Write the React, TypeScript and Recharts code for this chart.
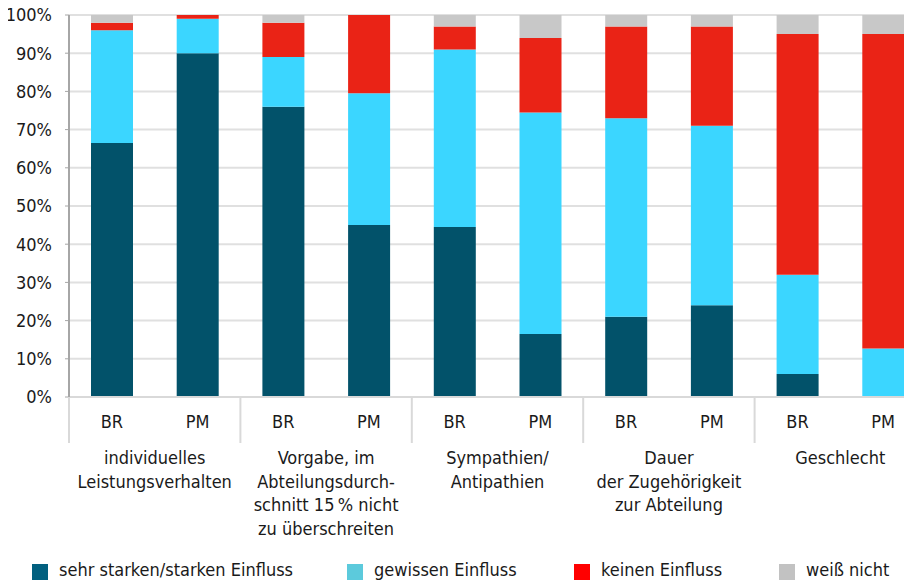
import React from 'react';
import { BarChart, Bar, XAxis, YAxis, CartesianGrid } from 'recharts';

const categories = ['BR', 'PM', 'BR', 'PM', 'BR', 'PM', 'BR', 'PM', 'BR', 'PM'];
const groupLabels: string[][] = [
  ['individuelles', 'Leistungsverhalten'],
  ['Vorgabe, im', 'Abteilungsdurch-', 'schnitt 15\u202F% nicht', 'zu überschreiten'],
  ['Sympathien/', 'Antipathien'],
  ['Dauer', 'der Zugehörigkeit', 'zur Abteilung'],
  ['Geschlecht'],
];
const strong = [66.5, 90, 76, 45, 44.5, 16.5, 21, 24, 6, 0];
const some = [29.5, 9, 13, 34.5, 46.5, 58, 52, 47, 26, 12.7];
const none = [2, 1, 9, 20.5, 6, 19.5, 24, 26, 63, 82.3];
const dunno = [2, 0, 2, 0, 3, 6, 3, 3, 5, 5];
const yTicks = [0, 10, 20, 30, 40, 50, 60, 70, 80, 90, 100];

const seriesNames = ['sehr starken/starken Einfluss', 'gewissen Einfluss', 'keinen Einfluss', 'weiß nicht'];
const seriesKeys = ['strong', 'some', 'none', 'dunno'];
const barColors = ['#02526A', '#3BD6FF', '#EA2316', '#C8C8C8'];
const legendColors = ['#02607F', '#5CCADC', '#FF0000', '#C2C2C2'];
const legendLeft = [32, 347, 574, 779];

const data = categories.map((c, i) => ({
  cat: c,
  strong: strong[i],
  some: some[i],
  none: none[i],
  dunno: dunno[i],
}));

const FONT = "'Liberation Sans Narrow', 'DejaVu Sans Condensed', 'Roboto', sans-serif";
const TEXT = '#1a1a1a';
const FS = 18;

const XTick = (props: any) => {
  const { x, y, payload, index } = props;
  const off = payload && payload.offset ? payload.offset : 42.8;
  const gi = Math.floor(index / 2);
  return (
    <g>
      <text x={x} y={y + 31} textAnchor="middle" fill={TEXT} fontSize={FS} fontFamily={FONT}>
        {payload.value}
      </text>
      {index % 2 === 0 && (
        <g>
          <line x1={x - off} x2={x - off} y1={y} y2={y + 46} stroke="#d9d9d9" strokeWidth={2} />
          {groupLabels[gi].map((t, k) => (
            <text
              key={k}
              x={x + off}
              y={y + 67 + k * 23.5}
              textAnchor="middle"
              fill={TEXT}
              fontSize={FS}
              fontFamily={FONT}
            >
              {t}
            </text>
          ))}
        </g>
      )}
    </g>
  );
};

export default function App() {
  return (
    <div
      style={{
        position: 'relative',
        width: 912,
        height: 580,
        overflow: 'hidden',
        marginLeft: -8,
        marginTop: -8,
        background: '#fff',
        fontFamily: FONT,
      }}
    >
      <BarChart
        width={930}
        height={580}
        data={data}
        margin={{ top: 15, right: 4, left: 0, bottom: 33 }}
        barCategoryGap={0}
      >
        <CartesianGrid vertical={false} stroke="#e0e0e0" strokeWidth={2} />
        <XAxis
          dataKey="cat"
          height={150}
          interval={0}
          tickLine={false}
          tickSize={0}
          tickMargin={0}
          axisLine={{ stroke: '#d9d9d9', strokeWidth: 2 }}
          tick={<XTick />}
        />
        <YAxis
          width={69}
          domain={[0, 100]}
          ticks={yTicks}
          interval={0}
          tickFormatter={(v: number) => `${v}%`}
          axisLine={{ stroke: '#a6a6a6', strokeWidth: 2 }}
          tickLine={{ stroke: '#a6a6a6' }}
          tickSize={4}
          tickMargin={13}
          tick={{ fill: TEXT, fontSize: FS, fontFamily: FONT }}
        />
        {seriesKeys.map((k, i) => (
          <Bar
            key={k}
            dataKey={k}
            name={seriesNames[i]}
            stackId="a"
            fill={barColors[i]}
            barSize={42}
            isAnimationActive={false}
          />
        ))}
      </BarChart>
      {seriesNames.map((n, i) => (
        <div
          key={n}
          style={{
            position: 'absolute',
            left: legendLeft[i],
            top: 559,
            display: 'flex',
            alignItems: 'center',
            whiteSpace: 'nowrap',
          }}
        >
          <div style={{ width: 16, height: 16, background: legendColors[i], marginRight: 11, marginTop: 3 }} />
          <span style={{ fontSize: FS, color: TEXT, lineHeight: '22px' }}>{n}</span>
        </div>
      ))}
    </div>
  );
}
